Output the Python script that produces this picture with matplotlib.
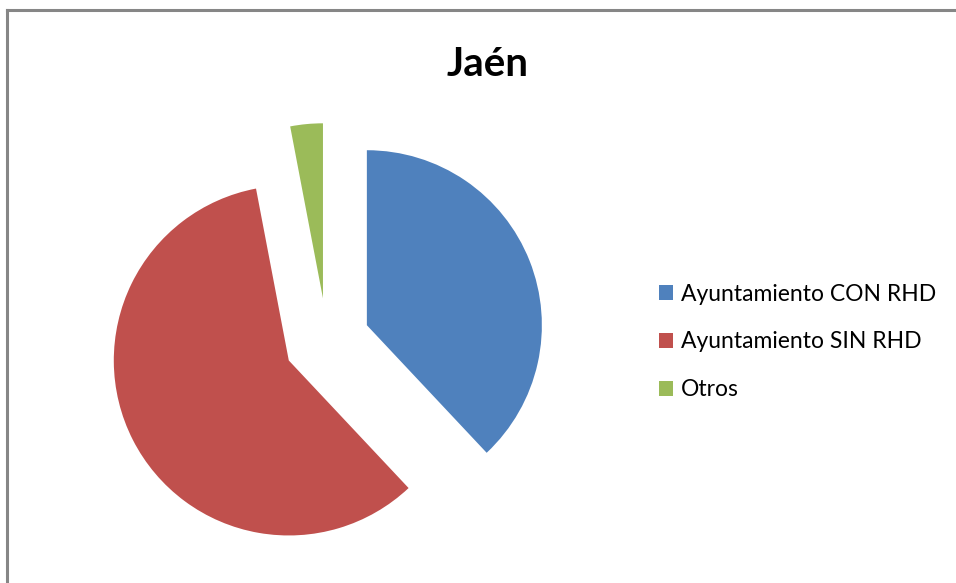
import matplotlib.pyplot as plt
from matplotlib.lines import Line2D

labels = ["Ayuntamiento CON RHD", "Ayuntamiento SIN RHD", "Otros"]
values = [38, 59, 3]
colors = ["#4F81BD", "#C0504D", "#9BBB59"]

plt.rcParams['font.family'] = ['Lato', 'DejaVu Sans']

fig = plt.figure(figsize=(9.56, 5.83), dpi=100)

# border of the chart area (only top and left visible)
x0, y0 = 7 / 956, 1 - 10 / 583
fig.lines.append(Line2D([x0, 1.1], [y0, y0], transform=fig.transFigure,
                        color="#868686", linewidth=2.2))
fig.lines.append(Line2D([x0, x0], [-0.1, y0], transform=fig.transFigure,
                        color="#868686", linewidth=2.2))

# 1 data unit = 175 px, centre at (327, 341) px
half = 1.6
w = 2 * half * 175
ax = fig.add_axes([(327 - w / 2) / 956, (583 - 341 - w / 2) / 583, w / 956, w / 583])
wedges, _ = ax.pie(values, colors=colors, startangle=90, counterclock=False,
                   explode=[0.245] * 3, radius=1.0)
ax.set_xlim(-half, half)
ax.set_ylim(-half, half)
ax.set_aspect("equal")
ax.axis("off")

fig.text(488 / 956, 1 - 64 / 583, "Jaén", ha="center", va="center",
         fontsize=29, fontweight="bold")

fig.legend(wedges, labels, loc="center left",
           bbox_to_anchor=(659 / 956, 1 - 342 / 583),
           frameon=False, fontsize=16.5, handlelength=0.6, handleheight=0.6,
           handletextpad=0.35, labelspacing=1.17, borderpad=0, borderaxespad=0)

fig.savefig("out.png", dpi=100)
